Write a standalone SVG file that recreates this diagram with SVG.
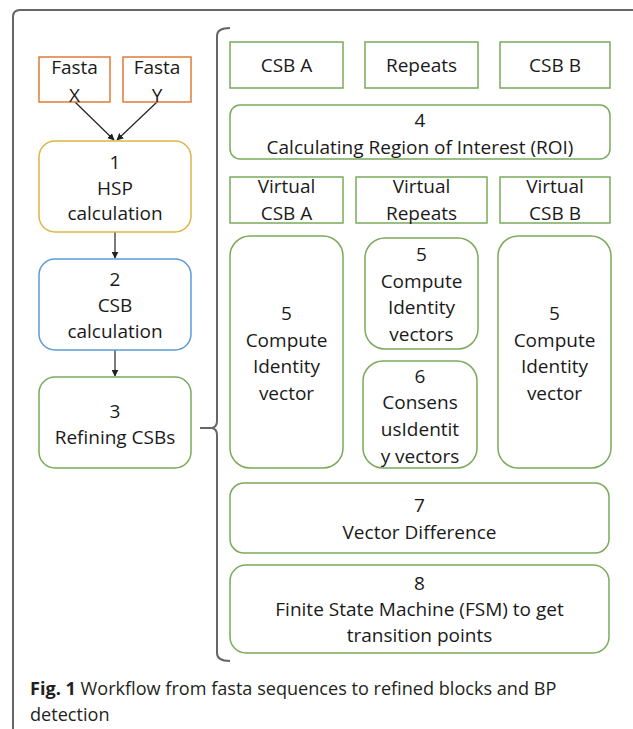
<svg xmlns="http://www.w3.org/2000/svg" width="633" height="729" viewBox="0 0 633 729">
  <style>
    .lbl { font-family: "Open Sans", "Liberation Sans", sans-serif; font-size: 19px; fill: #1a1a1a; text-anchor: middle; }
    .cap { font-family: "Open Sans", "Liberation Sans", sans-serif; font-size: 18.1px; fill: #231f20; }
    .box { fill: #ffffff; stroke-width: 1.5; }
    .orange { stroke: #e07b39; }
    .gold { stroke: #dcb545; }
    .blue { stroke: #5b9bd5; }
    .green { stroke: #7aaa5a; }
    .conn { stroke: #222; stroke-width: 1.2; fill: none; }
    .frame { stroke: #666; stroke-width: 2; fill: none; }
  </style>
  <defs>
    <marker id="arrow" viewBox="0 0 10 10" refX="9" refY="5" markerWidth="7" markerHeight="7" markerUnits="userSpaceOnUse" orient="auto">
      <path d="M0,0 L10,5 L0,10 z" fill="#222"/>
    </marker>
  </defs>

  <rect width="633" height="729" fill="#ffffff"/>

  <!-- outer panel frame -->
  <path class="frame" d="M13,729 V17 Q13,10 20,10 H633"/>

  <!-- curly bracket grouping the refinement steps -->
  <path class="frame" d="M230,28 Q217,28 217,36 V421 Q217,427 212,428 H200 M212,428 Q217,429 217,435 V653 Q217,661 230,661" stroke="#777"/>

  <!-- connectors -->
  <g id="connectors">
    <line class="conn" x1="75" y1="102" x2="114" y2="140" marker-end="url(#arrow)"/>
    <line class="conn" x1="157" y1="102" x2="117" y2="140" marker-end="url(#arrow)"/>
    <line class="conn" x1="115" y1="232" x2="115" y2="258" marker-end="url(#arrow)"/>
    <line class="conn" x1="115" y1="350" x2="115" y2="376" marker-end="url(#arrow)"/>
  </g>

  <g id="fasta-x">
    <rect class="box orange" x="39" y="57" width="71" height="45"/>
    <text class="lbl" x="74.5" y="74">Fasta</text>
    <text class="lbl" x="74.5" y="102">X</text>
  </g>
  <g id="fasta-y">
    <rect class="box orange" x="123" y="57" width="68" height="45"/>
    <text class="lbl" x="157" y="74">Fasta</text>
    <text class="lbl" x="157" y="102">Y</text>
  </g>

  <g id="hsp">
    <rect class="box gold" x="39" y="141" width="152" height="91" rx="16"/>
    <text class="lbl" x="115" y="169">1</text>
    <text class="lbl" x="115" y="195">HSP</text>
    <text class="lbl" x="115" y="220">calculation</text>
  </g>
  <g id="csb">
    <rect class="box blue" x="39" y="259" width="152" height="91" rx="16"/>
    <text class="lbl" x="115" y="286">2</text>
    <text class="lbl" x="115" y="312">CSB</text>
    <text class="lbl" x="115" y="338">calculation</text>
  </g>
  <g id="refine">
    <rect class="box green" x="39" y="377" width="152" height="91" rx="16"/>
    <text class="lbl" x="115" y="418">3</text>
    <text class="lbl" x="115" y="444">Refining CSBs</text>
  </g>

  <g id="csb-a">
    <rect class="box green" x="230" y="42" width="113" height="46"/>
    <text class="lbl" x="286.5" y="72">CSB A</text>
  </g>
  <g id="repeats">
    <rect class="box green" x="365" y="42" width="113" height="46"/>
    <text class="lbl" x="421.5" y="72">Repeats</text>
  </g>
  <g id="csb-b">
    <rect class="box green" x="500" y="42" width="110" height="46"/>
    <text class="lbl" x="555" y="72">CSB B</text>
  </g>

  <g id="roi">
    <rect class="box green" x="230" y="105" width="380" height="54" rx="10"/>
    <text class="lbl" x="420" y="127">4</text>
    <text class="lbl" x="420" y="154">Calculating Region of Interest (ROI)</text>
  </g>

  <g id="virtual-csb-a">
    <rect class="box green" x="230" y="177" width="113" height="46"/>
    <text class="lbl" x="286.5" y="193">Virtual</text>
    <text class="lbl" x="286.5" y="220">CSB A</text>
  </g>
  <g id="virtual-repeats">
    <rect class="box green" x="356" y="177" width="131" height="46"/>
    <text class="lbl" x="421.5" y="193">Virtual</text>
    <text class="lbl" x="421.5" y="220">Repeats</text>
  </g>
  <g id="virtual-csb-b">
    <rect class="box green" x="500" y="177" width="110" height="46"/>
    <text class="lbl" x="555" y="193">Virtual</text>
    <text class="lbl" x="555" y="220">CSB B</text>
  </g>

  <g id="identity-a">
    <rect class="box green" x="230" y="236" width="113" height="232" rx="20"/>
    <text class="lbl" x="286.5" y="320">5</text>
    <text class="lbl" x="286.5" y="347">Compute</text>
    <text class="lbl" x="286.5" y="373">Identity</text>
    <text class="lbl" x="286.5" y="400">vector</text>
  </g>
  <g id="identity-repeats">
    <rect class="box green" x="365" y="238" width="113" height="111" rx="20"/>
    <text class="lbl" x="421.5" y="261">5</text>
    <text class="lbl" x="421.5" y="288">Compute</text>
    <text class="lbl" x="421.5" y="314">Identity</text>
    <text class="lbl" x="421.5" y="341">vectors</text>
  </g>
  <g id="consensus">
    <rect class="box green" x="363" y="361" width="114" height="107" rx="20"/>
    <text class="lbl" x="420" y="383">6</text>
    <text class="lbl" x="420" y="409">Consens</text>
    <text class="lbl" x="420" y="436">usIdentit</text>
    <text class="lbl" x="420" y="463">y vectors</text>
  </g>
  <g id="identity-b">
    <rect class="box green" x="498" y="236" width="113" height="232" rx="20"/>
    <text class="lbl" x="554.5" y="320">5</text>
    <text class="lbl" x="554.5" y="347">Compute</text>
    <text class="lbl" x="554.5" y="373">Identity</text>
    <text class="lbl" x="554.5" y="400">vector</text>
  </g>

  <g id="difference">
    <rect class="box green" x="230" y="483" width="379" height="70" rx="14"/>
    <text class="lbl" x="419.5" y="512">7</text>
    <text class="lbl" x="419.5" y="539">Vector Difference</text>
  </g>
  <g id="fsm">
    <rect class="box green" x="230" y="565" width="379" height="88" rx="16"/>
    <text class="lbl" x="419.5" y="590">8</text>
    <text class="lbl" x="419.5" y="616">Finite State Machine (FSM) to get</text>
    <text class="lbl" x="419.5" y="642">transition points</text>
  </g>

  <!-- figure caption -->
  <text class="cap" x="30" y="695"><tspan font-weight="bold">Fig. 1</tspan> Workflow from fasta sequences to refined blocks and BP</text>
  <text class="cap" x="30" y="721">detection</text>
</svg>
